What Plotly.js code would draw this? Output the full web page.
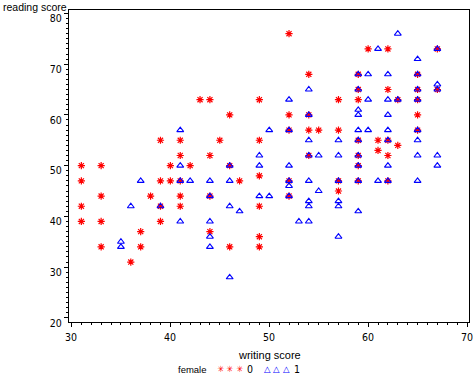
<!DOCTYPE html>
<html>
<head>
<meta charset="utf-8">
<script src="https://cdn.plot.ly/plotly-3.0.1.min.js"></script>
<style>html,body{margin:0;padding:0;background:#fff;}</style>
</head>
<body>
<div id="chart" style="width:475px;height:380px;"></div>
<script>
// female = 0 (red asterisks)
const write0 = [39,31,33,40,31,39,40,33,38,31,39,31,33,39,37,33,37,36,
  43,44,49,46,41,45,49,41,44,42,46,49,41,47,41,44,41,49,44,49,46,49,
  52,60,54,59,59,57,59,52,54,52,54,55,57,59,54,59,59,52,57,59,52,57,
  62,67,65,67,62,65,63,65,65,65,61,62,63,61,62,62];
const read0 = [55,50,50,50,47,47,47,44,44,42,42,39,39,39,37,34,34,31,
  63,63,63,60,55,55,55,52,52,50,50,48,47,47,44,44,42,42,37,36,34,34,
  76,73,68,68,65,63,63,60,60,57,57,57,57,55,52,52,50,47,47,47,44,45,
  73,73,68,65,65,65,63,63,60,57,55,55,54,53,52,47];
// female = 1 (blue triangles)
const write1 = [37,36,39,35,35,
  41,50,49,41,46,49,41,42,44,46,44,49,50,46,47,41,44,44,44,46,
  59,60,54,59,52,60,59,59,54,52,59,60,54,57,59,54,55,57,59,52,59,52,52,54,57,59,52,55,54,54,57,57,59,53,54,57,
  63,61,67,65,62,65,67,67,65,62,63,65,62,62,65,62,65,65,67,62,67,61,62,65];
const read1 = [47,42,42,35,34,
  57,57,52,50,50,50,47,47,47,47,44,44,44,42,41,39,39,36,34,28,
  68,68,65,65,63,63,61,60,60,57,57,57,55,55,55,52,52,52,52,50,50,47,46,47,47,47,44,45,43,42,43,42,41,39,39,36,
  76,73,73,71,68,68,66,65,65,63,63,63,60,57,57,55,55,52,52,50,50,47,47,47];

const xTicks = [30,40,50,60,70];
const yTicks = [20,30,40,50,60,70,80];
const xLabel = 'writing score';
const yLabel = 'reading score';
const groupTitle = 'female';
const groupNames = ['0','1'];
const groupColors = ['#ff0000','#0000ff'];
const groupGlyphs = ['\u2733','\u25B3'];

const TITLEFONT = "'Liberation Sans', Arial, sans-serif";
const NARROW = "'Liberation Sans Narrow', 'DejaVu Sans Condensed', 'Liberation Sans', sans-serif";

const traces = [
  {x: write0, y: read0, type: 'scatter', mode: 'markers', name: groupNames[0],
   marker: {symbol: 'asterisk-open', size: 6, color: groupColors[0], line: {color: groupColors[0], width: 1.2}}},
  {x: write1, y: read1, type: 'scatter', mode: 'markers', name: groupNames[1],
   marker: {symbol: 'triangle-up-open', size: 6, color: groupColors[1], line: {color: groupColors[1], width: 1.1}}}
];

const W = 475, H = 380, ML = 69, MR = 6, MT = 10, MB = 58;
const PW = W - ML - MR, PH = H - MT - MB;
const px = v => (v - ML) / PW;           // pixel -> paper x
const py = v => (H - MB - v) / PH;       // pixel -> paper y

const annotations = [
  {text: yLabel, xref: 'paper', yref: 'paper', x: px(2), y: py(6.5), xanchor: 'left', yanchor: 'middle',
   borderpad: 0, showarrow: false, font: {family: TITLEFONT, size: 10.5, color: '#000'}},
  {text: xLabel, xref: 'paper', yref: 'paper', x: 0.5, y: py(355), xanchor: 'center', yanchor: 'middle',
   showarrow: false, font: {family: TITLEFONT, size: 11, color: '#000'}}
];
// x tick labels placed through the x scale
xTicks.forEach(v => annotations.push({text: String(v), xref: 'x', yref: 'paper', x: v, y: py(337),
  xanchor: 'center', yanchor: 'middle', showarrow: false, font: {family: NARROW, size: 10.5, color: '#000'}}));

// manual legend (SAS style: label, three symbols, value)
const legendY = py(369);
annotations.push({text: groupTitle, xref: 'paper', yref: 'paper', x: px(176), y: legendY, xanchor: 'left', yanchor: 'middle',
  showarrow: false, font: {family: TITLEFONT, size: 9.5, color: '#000'}});
const symStart = [220, 267], symStep = 9.7, labelX = [249.5, 297];
groupNames.forEach((g, i) => {
  for (let k = 0; k < 3; k++) {
    annotations.push({text: groupGlyphs[i], xref: 'paper', yref: 'paper', x: px(symStart[i] + k * symStep), y: legendY,
      xanchor: 'center', yanchor: 'middle', showarrow: false,
      font: {family: "'DejaVu Sans', sans-serif", size: 8.5, color: groupColors[i]}});
  }
  annotations.push({text: g, xref: 'paper', yref: 'paper', x: px(labelX[i]), y: legendY, xanchor: 'center', yanchor: 'middle',
    showarrow: false, font: {family: NARROW, size: 10.5, color: '#000'}});
});

const layout = {
  width: W, height: H,
  margin: {l: ML, r: MR, t: MT, b: MB},
  paper_bgcolor: '#fff', plot_bgcolor: '#fff',
  font: {family: TITLEFONT, size: 11, color: '#000'},
  showlegend: false,
  xaxis: {
    range: [29.75, 70.2], showgrid: false, zeroline: false, showline: true, mirror: true,
    linecolor: '#000', linewidth: 1, ticks: 'outside', ticklen: 4, tickwidth: 1, tickcolor: '#000',
    tickmode: 'array', tickvals: xTicks, showticklabels: false,
    minor: {dtick: 1, tick0: 30, ticks: 'outside', ticklen: 2, tickcolor: '#000', tickwidth: 1}
  },
  yaxis: {
    range: [19.19, 80.67], showgrid: false, zeroline: false, showline: true, mirror: true,
    linecolor: '#000', linewidth: 1, ticks: 'outside', ticklen: 4, tickwidth: 1, tickcolor: '#000',
    tickmode: 'array', tickvals: yTicks, ticktext: yTicks.map(String), ticklabelshift: 5,
    tickfont: {family: NARROW, size: 10.5, color: '#000'},
    minor: {dtick: 1, tick0: 20, ticks: 'outside', ticklen: 2, tickcolor: '#000', tickwidth: 1}
  },
  annotations: annotations
};

Plotly.newPlot('chart', traces, layout, {displayModeBar: false, staticPlot: true});
</script>
</body>
</html>
